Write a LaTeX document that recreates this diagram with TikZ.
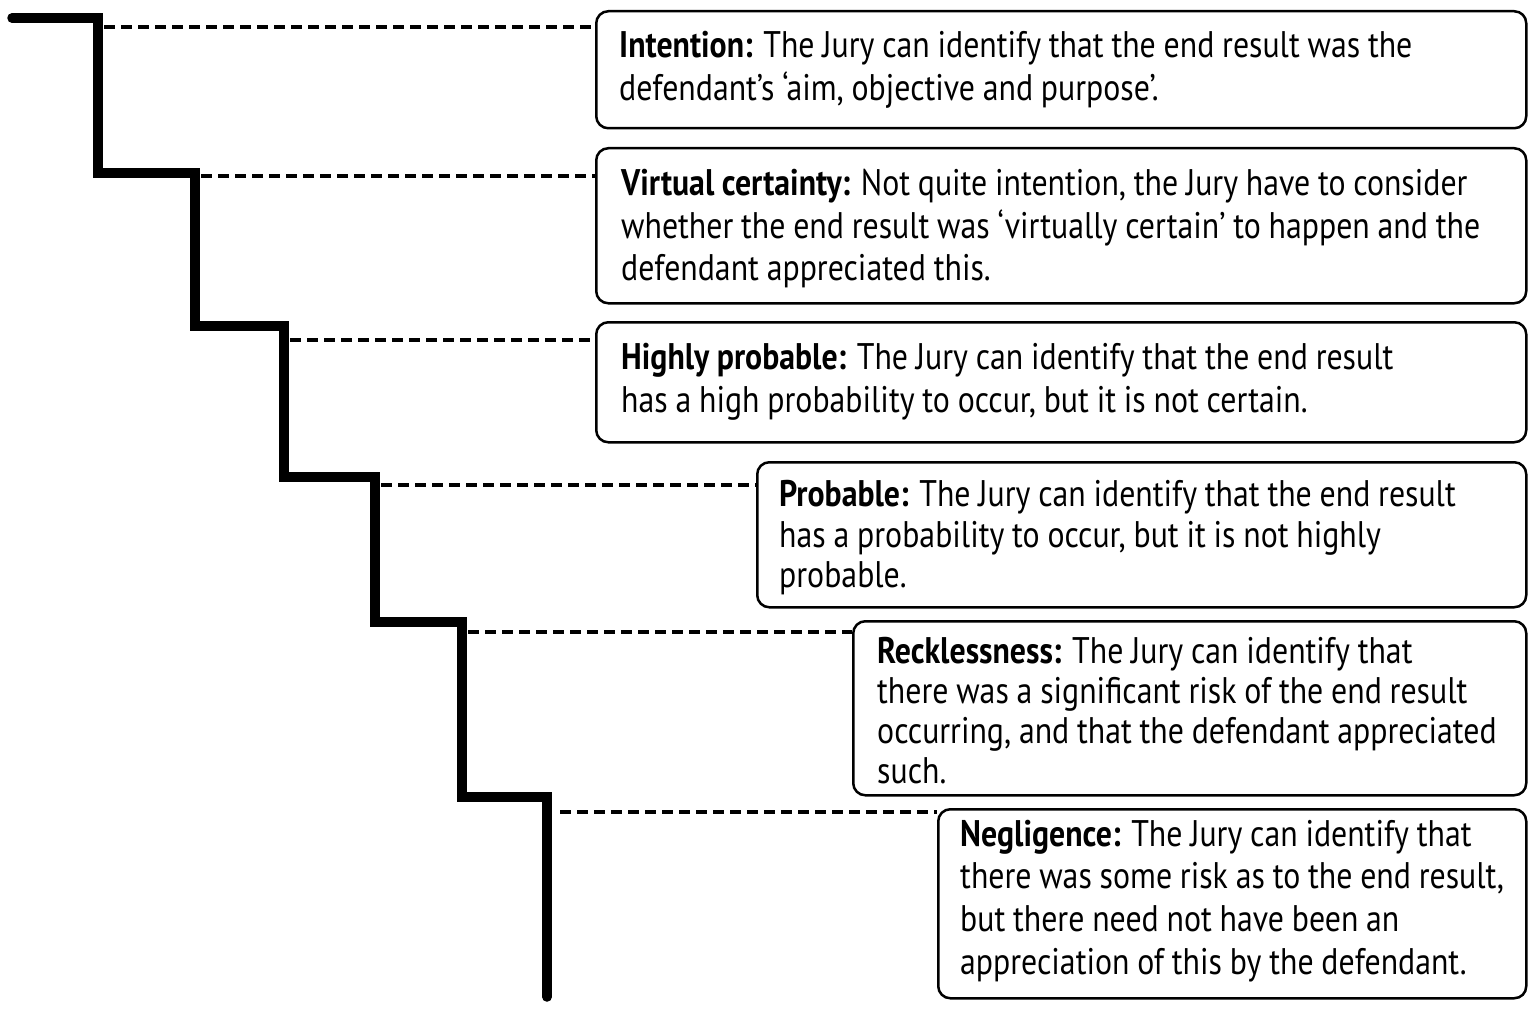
\documentclass[tikz,border=0pt]{standalone}
\usepackage{fontspec}
\setmainfont[FakeStretch=0.86, WordSpace=0.92]{PT Sans}
\usetikzlibrary{calc}
\begin{document}
\begin{tikzpicture}[x=1pt,y=-1pt,
  stair/.style={line width=9.5pt, line cap=round, line join=miter},
  leader/.style={line width=4pt, dash pattern=on 11pt off 6pt},
  box/.style={draw, line width=2.5pt, rounded corners=12pt, inner sep=0pt, anchor=north west},
  txt/.style={inner sep=0pt, align=left, anchor=west, font=\fontsize{37}{43}\selectfont}
]
\useasboundingbox (0,0) rectangle (1536,1019);

% staircase
\draw[stair] (12,18) -- (98,18) -- (98,173) -- (195,173) -- (195,326) -- (284,326)
  -- (284,477) -- (375,477) -- (375,622) -- (462,622) -- (462,797) -- (547,797) -- (547,997);

% boxes
\node[box, minimum width=930pt, minimum height=117pt] (b1) at (595,10) {};
\node[box, minimum width=930pt, minimum height=155pt] (b2) at (595,147) {};
\node[box, minimum width=930pt, minimum height=120pt] (b3) at (595,321) {};
\node[box, minimum width=769pt, minimum height=145pt] (b4) at (756,461) {};
\node[box, minimum width=673pt, minimum height=174pt] (b5) at (852,620) {};
\node[box, minimum width=588pt, minimum height=189pt] (b6) at (937,808) {};

% texts
\node[txt] (t1) at ($(b1.west)+(24,0)$)
 {\textbf{Intention:} The Jury can identify that the end result was the\\
  defendant’s ‘aim, objective and purpose’.};
\node[txt, font=\fontsize{37}{42.5}\selectfont] (t2) at ($(b2.west)+(26,3)$)
 {\textbf{Virtual certainty:} Not quite intention, the Jury have to consider\\
  whether the end result was ‘virtually certain’ to happen and the\\
  defendant appreciated this.};
\node[txt] (t3) at ($(b3.west)+(26,0)$)
 {\textbf{Highly probable:} The Jury can identify that the end result\\
  has a high probability to occur, but it is not certain.};
\node[txt, font=\fontsize{37}{40.5}\selectfont] (t4) at ($(b4.west)+(23,3)$)
 {\textbf{Probable:} The Jury can identify that the end result\\
  has a probability to occur, but it is not highly\\
  probable.};
\node[txt, font=\fontsize{37}{40}\selectfont] (t5) at ($(b5.west)+(25,2)$)
 {\textbf{Recklessness:} The Jury can identify that\\
  there was a significant risk of the end result\\
  occurring, and that the defendant appreciated\\
  such.};
\node[txt, font=\fontsize{37}{42.7}\selectfont] (t6) at ($(b6.west)+(23,-3)$)
 {\textbf{Negligence:} The Jury can identify that\\
  there was some risk as to the end result,\\
  but there need not have been an\\
  appreciation of this by the defendant.};

% leaders
\coordinate (d1) at (104,27);
\coordinate (d2) at (201,176);
\coordinate (d3) at (290,340);
\coordinate (d4) at (381,485);
\coordinate (d5) at (468,632);
\coordinate (d6) at (560,812);
\draw[leader] (d1) -- (d1 -| b1.west);
\draw[leader] (d2) -- (d2 -| b2.west);
\draw[leader] (d3) -- (d3 -| b3.west);
\draw[leader] (d4) -- (d4 -| b4.west);
\draw[leader] (d5) -- (d5 -| b5.west);
\draw[leader] (d6) -- (d6 -| b6.west);
\end{tikzpicture}
\end{document}
